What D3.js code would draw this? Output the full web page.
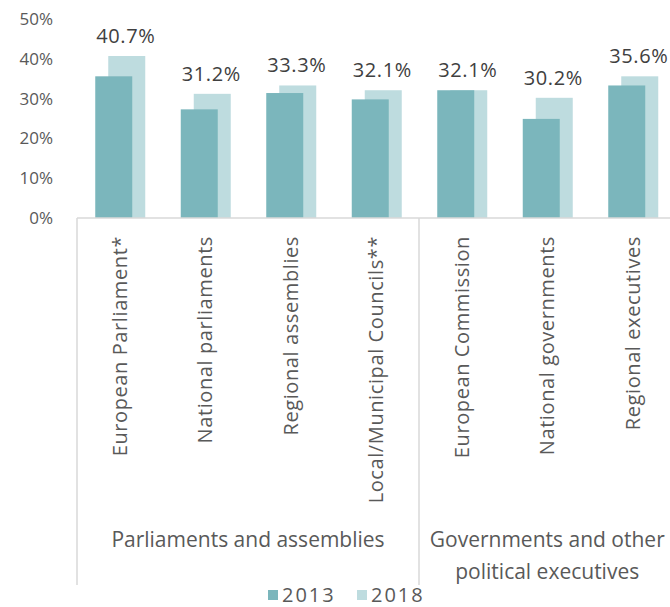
<!DOCTYPE html>
<html>
  <head>
    <meta charset="utf-8">
    <title>Women in political decision-making</title>
    <script src="https://d3js.org/d3.v7.min.js"></script>
    <style>
      body { margin: 0; background: #fff; }
      text { font-family: "Open Sans", sans-serif; fill: #595959; }
    </style>
  </head>
  <body>
    <svg width="670" height="607"></svg>
    <script>
      var categories = ["European Parliament*", "National parliaments", "Regional assemblies",
                        "Local/Municipal Councils**", "European Commission", "National governments",
                        "Regional executives"];
      var values2013 = [35.6, 27.3, 31.4, 29.8, 32.1, 24.9, 33.3];
      var values2018 = [40.7, 31.2, 33.3, 32.1, 32.1, 30.2, 35.6];
      var series = ["2013", "2018"];
      var groups = [
        {lines: ["Parliaments and assemblies"], first: 0, last: 3},
        {lines: ["Governments and other", "political executives"], first: 4, last: 6}
      ];
      var yTicks = [0, 10, 20, 30, 40, 50];
      var colors = {"2013": "#7bb6bc", "2018": "#bedcdf"};

      var margin = {top: 19, left: 77},
          width = 85.5 * 7,
          height = 199;

      var svg = d3.select("svg")
        .append("g")
          .attr("transform", "translate(" + margin.left + "," + margin.top + ")");

      var x = d3.scaleBand()
          .domain(categories)
          .range([0, width]);

      var y = d3.scaleLinear()
          .domain([0, 50])
          .range([height, 0]);

      // y tick labels (no axis line)
      svg.selectAll(".ytick")
          .data(yTicks)
          .enter().append("text")
          .attr("x", -24)
          .attr("y", function(d) { return y(d); })
          .attr("dy", "0.35em")
          .attr("text-anchor", "end")
          .style("font-size", "17px")
          .text(function(d) { return d + "%"; });

      var barW = 37;

      // 2018 behind, 2013 in front
      svg.selectAll(".b18")
          .data(categories)
          .enter().append("rect")
          .attr("x", function(d) { return x(d) + x.bandwidth() / 2 - 11.5; })
          .attr("y", function(d, i) { return y(values2018[i]); })
          .attr("width", barW)
          .attr("height", function(d, i) { return height - y(values2018[i]); })
          .attr("fill", colors["2018"]);

      svg.selectAll(".b13")
          .data(categories)
          .enter().append("rect")
          .attr("x", function(d) { return x(d) + x.bandwidth() / 2 - 24.5; })
          .attr("y", function(d, i) { return y(values2013[i]); })
          .attr("width", barW)
          .attr("height", function(d, i) { return height - y(values2013[i]); })
          .attr("fill", colors["2013"]);

      // value labels for 2018
      svg.selectAll(".vlab")
          .data(categories)
          .enter().append("text")
          .attr("x", function(d) { return x(d) + x.bandwidth() / 2 + 6; })
          .attr("y", function(d, i) { return y(values2018[i]) - 13; })
          .attr("text-anchor", "middle")
          .style("font-size", "20px")
          .style("letter-spacing", "0.6px")
          .style("fill", "#404040")
          .text(function(d, i) { return values2018[i].toFixed(1) + "%"; });

      // axis lines
      var lineColor = "#d9d9d9";
      svg.append("line")
          .attr("x1", 0).attr("x2", width + 10)
          .attr("y1", height).attr("y2", height)
          .attr("stroke", lineColor).attr("stroke-width", 1.5);
      svg.append("line")
          .attr("x1", 0).attr("x2", 0)
          .attr("y1", height).attr("y2", 566)
          .attr("stroke", lineColor).attr("stroke-width", 1.5);
      svg.append("line")
          .attr("x1", x(categories[4])).attr("x2", x(categories[4]))
          .attr("y1", height).attr("y2", 566)
          .attr("stroke", lineColor).attr("stroke-width", 1.5);

      // rotated category labels
      svg.selectAll(".clab")
          .data(categories)
          .enter().append("text")
          .attr("transform", function(d) {
            return "translate(" + (x(d) + x.bandwidth() / 2) + "," + (height + 18) + ") rotate(-90)";
          })
          .attr("dy", "0.35em")
          .attr("text-anchor", "end")
          .style("font-size", "20px")
          .style("letter-spacing", "0.6px")
          .text(function(d) { return d; });

      // group labels
      groups.forEach(function(g) {
        var cx = (x(categories[g.first]) + x(categories[g.last]) + x.bandwidth()) / 2;
        g.lines.forEach(function(l, k) {
          svg.append("text")
              .attr("x", cx)
              .attr("y", 528 + k * 32)
              .attr("text-anchor", "middle")
              .style("font-size", "21px")
              .text(l);
        });
      });

      // legend
      var legend = svg.append("g")
          .attr("transform", "translate(" + (268 - margin.left) + "," + (595 - margin.top) + ")");
      var lx = [0, 89];
      series.forEach(function(s, i) {
        legend.append("rect")
            .attr("x", lx[i]).attr("y", -5)
            .attr("width", 10).attr("height", 10)
            .attr("fill", colors[s]);
        legend.append("text")
            .attr("x", lx[i] + 14)
            .attr("y", 0)
            .attr("dy", "0.35em")
            .style("font-size", "20px")
            .style("letter-spacing", "2px")
            .text(s);
      });
    </script>
  </body>
</html>
